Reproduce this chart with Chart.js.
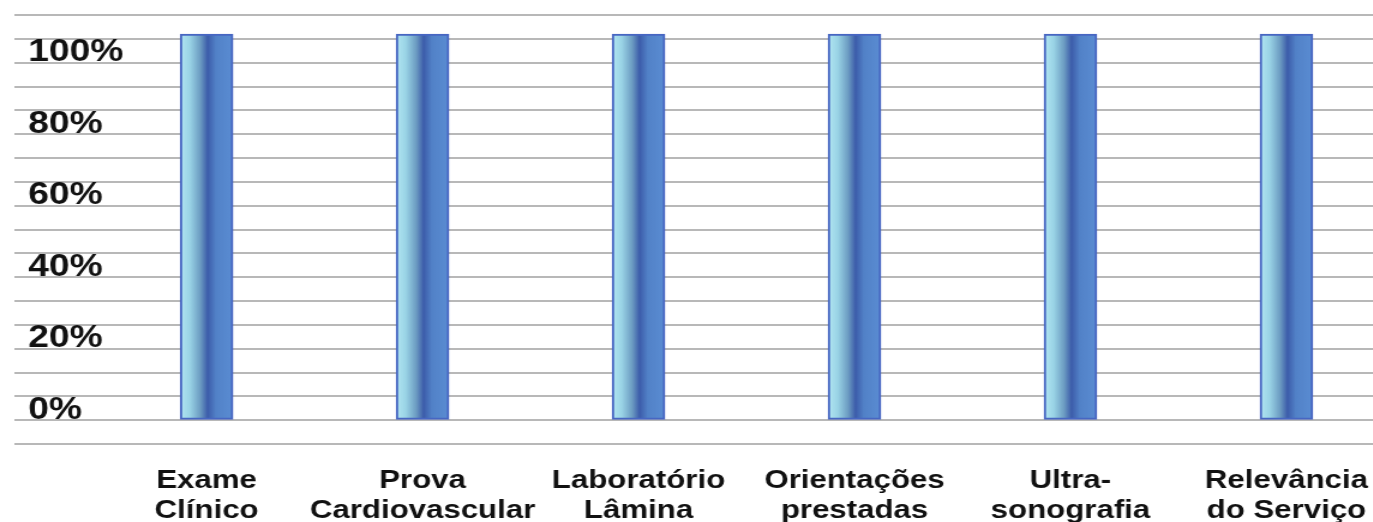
<!DOCTYPE html>
<html>
<head>
<meta charset="utf-8">
<script src="https://cdn.jsdelivr.net/npm/chart.js@4/dist/chart.umd.min.js"></script>
<style>
    html, body { margin: 0; padding: 0; background: #fff; overflow: hidden; }
    /* the reference picture is stretched sideways, so the chart is too */
    #wrap { width: 1144px; height: 528px; transform: scaleX(1.2); transform-origin: 0 0; }
</style>
</head>
<body>
<div id="wrap"><canvas id="chart"></canvas></div>
<script>
// categorias do eixo x
const categories = [
    ['Exame', 'Clínico'],
    ['Prova', 'Cardiovascular'],
    ['Laboratório', 'Lâmina'],
    ['Orientações', 'prestadas'],
    ['Ultra-', 'sonografia'],
    ['Relevância', 'do Serviço']
];
// altura das barras (%)
const values = [108, 108, 108, 108, 108, 108];
// rótulos do eixo y
const yTickValues = [0, 20, 40, 60, 80, 100];
// linhas de grade: um terço de cada 20%
const gridStep = 20 / 3;
const yMin = -gridStep;
const yMax = 17 * gridStep;

const fontFamily = "'Liberation Sans', Arial, sans-serif";

function barGradient(context) {
    const chart = context.chart;
    const xScale = chart.scales.x;
    if (!xScale || context.dataIndex === undefined) return '#5585cc';
    const xc = xScale.getPixelForValue(context.dataIndex);
    if (!Number.isFinite(xc)) return '#5585cc';
    const g = chart.ctx.createLinearGradient(xc - 22, 0, xc + 22, 0);
    g.addColorStop(0, '#b2e6f2');
    g.addColorStop(0.18, '#9ad4e6');
    g.addColorStop(0.38, '#6c9cc2');
    g.addColorStop(0.52, '#3c5caa');
    g.addColorStop(0.68, '#5282c8');
    g.addColorStop(1, '#5a8cd2');
    return g;
}

new Chart(document.getElementById('chart'), {
    type: 'bar',
    data: {
        datasets: [{
            data: values.map((v, i) => ({ x: i, y: v })),
            backgroundColor: barGradient,
            borderColor: '#4766c2',
            borderWidth: 2,
            borderSkipped: false,
            barThickness: 44
        }]
    },
    options: {
        responsive: true,
        maintainAspectRatio: false,
        animation: false,
        layout: { padding: { top: 15, left: -11.6, right: 0, bottom: 0 } },
        plugins: {
            legend: { display: false },
            tooltip: { enabled: false }
        },
        scales: {
            x: {
                type: 'linear',
                offset: false,
                min: -0.891,
                max: 5.4,
                grid: { display: false, drawTicks: true, tickLength: 19, offset: false },
                border: { display: false },
                afterBuildTicks: scale => {
                    scale.ticks = categories.map((_, i) => ({ value: i }));
                },
                ticks: {
                    autoSkip: false,
                    maxRotation: 0,
                    padding: 2,
                    color: '#111',
                    font: { family: fontFamily, size: 26, weight: 'bold', lineHeight: 1.17 },
                    callback: (value, index) => categories[index]
                }
            },
            y: {
                min: yMin,
                max: yMax,
                grid: { color: '#b8b8b8', lineWidth: 2, drawTicks: false },
                border: { display: false },
                afterBuildTicks: scale => {
                    const ticks = [];
                    for (let k = -1; k <= 17; k++) ticks.push({ value: k * gridStep });
                    scale.ticks = ticks;
                },
                ticks: {
                    mirror: true,
                    padding: 11.7,
                    labelOffset: -10,
                    color: '#111',
                    font: { family: fontFamily, size: 31, weight: 'bold', lineHeight: 0.01 },
                    callback: value => {
                        const r = Math.round(value);
                        if (Math.abs(value - r) < 1e-6 && yTickValues.includes(r)) return r + '%';
                        return '';
                    }
                }
            }
        }
    }
});
</script>
</body>
</html>
